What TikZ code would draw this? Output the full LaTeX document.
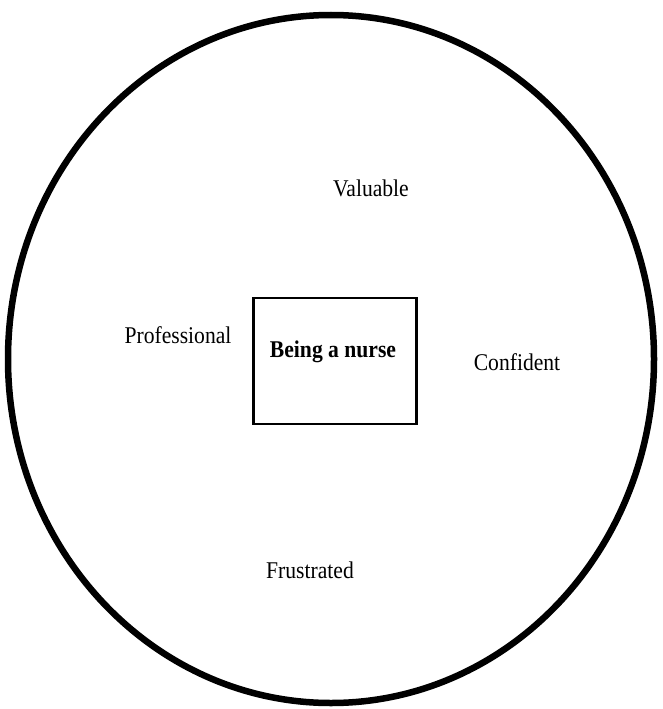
\documentclass[tikz,border=0pt]{standalone}
\usepackage{fontspec}
\setmainfont{Liberation Serif}
\usetikzlibrary{shapes.geometric}
\begin{document}
\begin{tikzpicture}[x=1pt,y=-1pt,
  lbl/.style={inner sep=0pt,font=\fontsize{24}{27}\selectfont,xscale=0.9},
  ringshape/.style={draw,ellipse,line width=6.5pt,inner sep=0pt,minimum width=646pt,minimum height=688pt},
  core/.style={draw,line width=2.2pt,minimum width=163pt,minimum height=126pt,inner sep=0pt}]
\useasboundingbox (0,0) rectangle (662,709);
\fill[white] (0,0) rectangle (662,709);
\node[ringshape] (ring) at (331,359) {};
\node[core] (box) at (335,361) {};
\node[lbl,font=\bfseries\fontsize{24}{27}\selectfont] (nurse) at (333,352) {Being a nurse};
\node[lbl] (val) at (371,188) {Valuable};
\node[lbl] (prof) at (178,335) {Professional};
\node[lbl] (conf) at (517,362) {Confident};
\node[lbl] (frus) at (310,570) {Frustrated};
\end{tikzpicture}
\end{document}
